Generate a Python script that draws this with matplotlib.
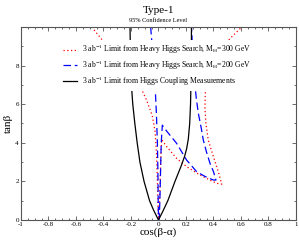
import matplotlib
matplotlib.use('Agg')
import matplotlib.pyplot as plt
from matplotlib.ticker import MultipleLocator

plt.rcParams['font.family'] = ['Liberation Serif', 'DejaVu Serif']
plt.rcParams['mathtext.fontset'] = 'stix'

# curves: cos(beta-alpha), tan(beta)
black_left_x = [0, -0.035, -0.065, -0.105, -0.135, -0.155, -0.172, -0.187, -0.197, -0.202, -0.205, -0.207]
black_left_y = [0, 0.5, 1, 2, 3, 4, 5, 6, 7, 8, 9, 10]
black_right_x = [0, 0.035, 0.068, 0.12, 0.165, 0.19, 0.205, 0.217, 0.227, 0.233, 0.236, 0.238, 0.239, 0.24]
black_right_y = [0, 0.5, 1, 2, 2.8, 3.3, 3.7, 4.2, 5, 6, 7, 8, 9, 10]

blue_x = [-0.057, -0.04, -0.025, -0.015, -0.008, -0.004, -0.002, 0.0, 0.006, 0.01, 0.015, 0.02, 0.028,
          0.06, 0.132, 0.205, 0.278, 0.34, 0.4, 0.418, 0.4, 0.375, 0.35, 0.326, 0.31, 0.29, 0.275,
          0.265, 0.255, 0.247, 0.24]
blue_y = [10, 8.5, 7, 5.5, 4, 2.5, 1, 0.05, 0.05, 1, 2.5, 4, 4.91,
          4.6, 3.97, 3.1, 2.5, 2.25, 2.07, 2.07, 2.5, 2.93, 3.5, 4.14, 4.8, 5.52, 6.3,
          7.0, 8, 9, 10]

red_x = [-0.486, -0.406, -0.3, -0.2, -0.138, -0.086, -0.045, -0.025, -0.015, -0.008, -0.003, 0.002,
         0.008, 0.012, 0.017, 0.023, 0.06, 0.132, 0.205, 0.302, 0.38, 0.423, 0.46, 0.435, 0.4, 0.362,
         0.345, 0.338, 0.34, 0.345, 0.38, 0.45, 0.52, 0.606]
red_y = [10, 9.3, 8.4, 7.6, 7.0, 6.2, 5.4, 4.6, 3.5, 2, 0.5, 0.05,
         1, 2, 3.2, 4.17, 3.8, 3.19, 2.76, 2.33, 2.05, 1.9, 1.86, 2.5, 3.27, 4.14,
         5.0, 5.8, 6.5, 7, 8, 8.8, 9.4, 10]

labels = ["3 ab$^{-1}$ Limit from Heavy Higgs Search, M$_{\\rm H}$=300 GeV",
          "3 ab$^{-1}$ Limit from Heavy Higgs Search, M$_{\\rm H}$=200 GeV",
          "3 ab$^{-1}$ Limit from Higgs Coupling Measurements"]

fig = plt.figure(figsize=(2.99, 2.43), dpi=100)
ax = fig.add_axes([0.0702, 0.0947, 0.9197, 0.7943])

ax.plot(red_x, red_y, color='red', ls=(0, (1, 2)), lw=0.9, label=labels[0])
ax.plot(blue_x, blue_y, color='blue', ls=(0, (6, 3)), lw=0.9, label=labels[1])
ax.plot(black_left_x, black_left_y, color='black', lw=0.9, label=labels[2])
ax.plot(black_right_x, black_right_y, color='black', lw=0.9)

ax.set_xlim(-1, 1)
ax.set_ylim(0, 10)
ax.xaxis.set_minor_locator(MultipleLocator(0.05))
ax.yaxis.set_minor_locator(MultipleLocator(1))
xt = [-1, -0.8, -0.6, -0.4, -0.2, 0, 0.2, 0.4, 0.6, 0.8, 1]
ax.set_xticks(xt)
ax.set_xticklabels(['-1', '-0.8', '-0.6', '-0.4', '-0.2', '0', '0.2', '0.4', '0.6', '0.8', '1'])
ax.set_yticks([0, 2, 4, 6, 8, 10])
ax.set_yticklabels(['0', '2', '4', '6', '8', ''])
ax.tick_params(which='both', direction='in', top=True, right=True, labelsize=5,
               color='#555555', width=0.6, pad=1.5)
ax.tick_params(which='major', length=3)
ax.tick_params(which='minor', length=1.5)
for s in ax.spines.values():
    s.set_color('#555555')
    s.set_linewidth(0.8)

ax.set_xlabel('cos(β-α)', fontsize=8, labelpad=0)
ax.set_ylabel('tanβ', fontsize=8, labelpad=2)

fig.text(0.53, 0.975, 'Type-1', ha='center', va='top', fontsize=8)
fig.text(0.53, 0.905, '95% Confidence Level', ha='center', va='bottom', fontsize=4.5)

leg = ax.legend(loc='upper left', bbox_to_anchor=(0.14, 0.935), fontsize=5.5, frameon=True,
                handlelength=1.9, handletextpad=0.6, labelspacing=0.3, borderpad=0.45,
                borderaxespad=0)
leg.get_frame().set_facecolor('white')
leg.get_frame().set_edgecolor('none')
leg.get_frame().set_alpha(1)

fig.savefig('out.png', dpi=100)
